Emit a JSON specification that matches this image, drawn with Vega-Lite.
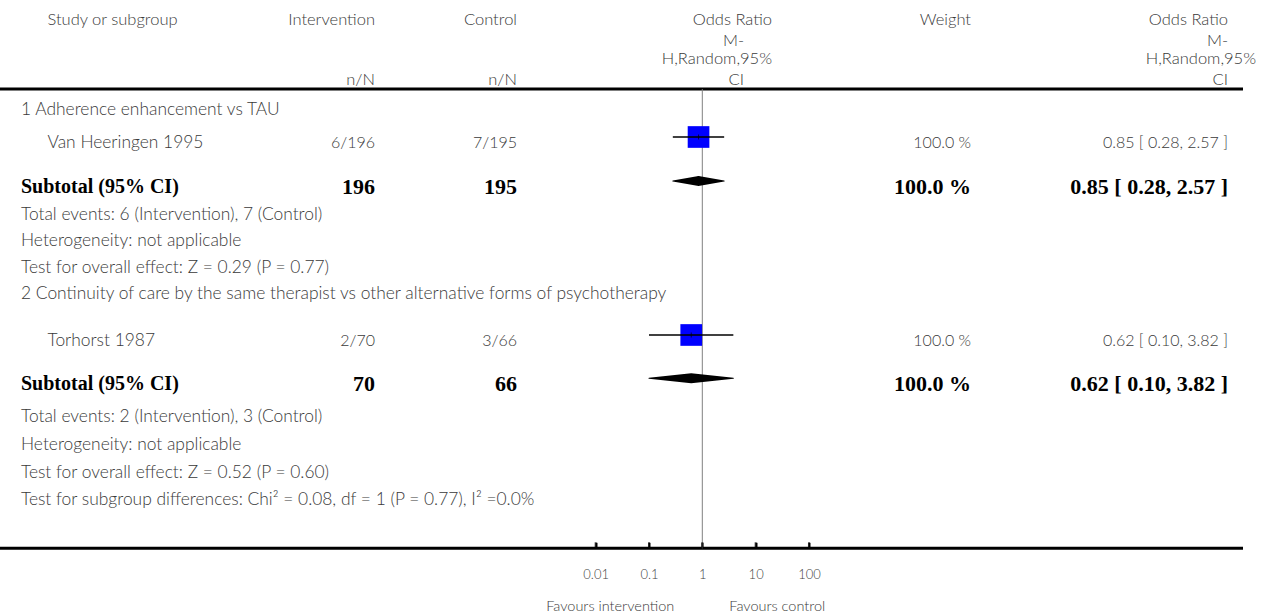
{
  "$schema": "https://vega.github.io/schema/vega-lite/v6.json",
  "padding": 0,
  "spacing": 0,
  "bounds": "flush",
  "background": "white",
  "config": {"view": {"stroke": null}},
  "datasets": {
    "rows": [
      {"r": 0.852, "kind": "group", "lvl": 0, "label": "1 Adherence enhancement vs TAU"},
      {"r": 2.074, "kind": "study", "lvl": 1, "label": "Van Heeringen 1995", "int": "6/196", "ctl": "7/195", "w": 100, "wt": "100.0 %", "ci": "0.85 [ 0.28, 2.57 ]", "or": 0.85, "lo": 0.28, "hi": 2.57},
      {"r": 3.704, "kind": "sub", "lvl": 0, "label": "Subtotal (95% CI)", "int": "196", "ctl": "195", "w": 100, "wt": "100.0 %", "ci": "0.85 [ 0.28, 2.57 ]", "or": 0.85, "lo": 0.28, "hi": 2.57},
      {"r": 4.741, "kind": "note", "lvl": 0, "label": "Total events: 6 (Intervention), 7 (Control)"},
      {"r": 5.704, "kind": "note", "lvl": 0, "label": "Heterogeneity: not applicable"},
      {"r": 6.704, "kind": "note", "lvl": 0, "label": "Test for overall effect: Z = 0.29 (P = 0.77)"},
      {"r": 7.667, "kind": "group", "lvl": 0, "label": "2 Continuity of care by the same therapist vs other alternative forms of psychotherapy"},
      {"r": 9.407, "kind": "study", "lvl": 1, "label": "Torhorst 1987", "int": "2/70", "ctl": "3/66", "w": 100, "wt": "100.0 %", "ci": "0.62 [ 0.10, 3.82 ]", "or": 0.62, "lo": 0.10, "hi": 3.82},
      {"r": 11.011, "kind": "sub", "lvl": 0, "label": "Subtotal (95% CI)", "int": "70", "ctl": "66", "w": 100, "wt": "100.0 %", "ci": "0.62 [ 0.10, 3.82 ]", "or": 0.62, "lo": 0.10, "hi": 3.82},
      {"r": 12.222, "kind": "note", "lvl": 0, "label": "Total events: 2 (Intervention), 3 (Control)"},
      {"r": 13.259, "kind": "note", "lvl": 0, "label": "Heterogeneity: not applicable"},
      {"r": 14.296, "kind": "note", "lvl": 0, "label": "Test for overall effect: Z = 0.52 (P = 0.60)"},
      {"r": 15.296, "kind": "note", "lvl": 0, "label": "Test for subgroup differences: Chi² = 0.08, df = 1 (P = 0.77), I² =0.0%"}
    ],
    "head": [
      {"r": -2.259, "lvl": 1, "study": "Study or subgroup", "int": "Intervention", "ctl": "Control", "orA": "Odds Ratio", "w": "Weight", "ciA": "Odds Ratio"},
      {"r": -1.481, "lvl": 1, "orB": "M-", "ciA": "M-"},
      {"r": -0.833, "lvl": 1, "orA": "H,Random,95%", "ciB": "H,Random,95%"},
      {"r": -0.037, "lvl": 1, "int": "n/N", "ctl": "n/N", "orB": "CI", "ciA": "CI"}
    ],
    "ref": [{"or": 1}],
    "ticks": [{"v": 0.01}, {"v": 0.1}, {"v": 1}, {"v": 10}, {"v": 100}],
    "fav": [{"t": "Favours intervention", "side": "L"}, {"t": "Favours control", "side": "R"}]
  },
  "hconcat": [
    {
      "width": 240, "height": 616,
      "layer": [
        {"data": {"name": "ref"}, "mark": {"type": "rect", "color": "black"},
         "encoding": {"x": {"value": 0}, "x2": {"value": "width"}, "y": {"datum": 0.2444, "type": "quantitative", "scale": {"domain": [-3, 19.8148], "reverse": true, "nice": false, "zero": false}, "axis": null}, "y2": {"datum": 0.3556}}},
        {"data": {"name": "ref"}, "mark": {"type": "rect", "color": "black"},
         "encoding": {"x": {"value": 0}, "x2": {"value": "width"}, "y": {"datum": 17.251, "type": "quantitative"}, "y2": {"datum": 17.363}}},
        {"data": {"name": "head"}, "transform": [{"filter": "isValid(datum.study)"}],
         "mark": {"type": "text", "font": "Lato", "fontSize": 16.5, "fontWeight": 300, "color": "#3a3a3a", "baseline": "middle", "align": "left"},
         "encoding": {"x": {"field": "lvl", "type": "quantitative", "scale": {"domain": [0, 1], "range": [21, 47.5]}, "axis": null}, "y": {"field": "r", "type": "quantitative"}, "text": {"field": "study"}}},
        {"data": {"name": "rows"}, "transform": [{"filter": "datum.kind != 'sub'"}],
         "mark": {"type": "text", "font": "Lato", "fontSize": 17.4, "fontWeight": 300, "color": "#3a3a3a", "baseline": "middle", "align": "left", "dy": 6},
         "encoding": {"x": {"field": "lvl", "type": "quantitative"}, "y": {"field": "r", "type": "quantitative"}, "text": {"field": "label"}}},
        {"data": {"name": "rows"}, "transform": [{"filter": "datum.kind == 'sub'"}],
         "mark": {"type": "text", "font": "Liberation Serif", "fontSize": 20, "fontWeight": "bold", "color": "black", "baseline": "middle", "align": "left", "dy": 6},
         "encoding": {"x": {"field": "lvl", "type": "quantitative"}, "y": {"field": "r", "type": "quantitative"}, "text": {"field": "label"}}}
      ]
    },
    {
      "width": 135, "height": 616,
      "layer": [
        {"data": {"name": "ref"}, "mark": {"type": "rect", "color": "black"},
         "encoding": {"x": {"value": 0}, "x2": {"value": "width"}, "y": {"datum": 0.2444, "type": "quantitative", "scale": {"domain": [-3, 19.8148], "reverse": true, "nice": false, "zero": false}, "axis": null}, "y2": {"datum": 0.3556}}},
        {"data": {"name": "ref"}, "mark": {"type": "rect", "color": "black"},
         "encoding": {"x": {"value": 0}, "x2": {"value": "width"}, "y": {"datum": 17.251, "type": "quantitative"}, "y2": {"datum": 17.363}}},
        {"data": {"name": "head"}, "transform": [{"filter": "isValid(datum.int)"}],
         "mark": {"type": "text", "font": "Lato", "fontSize": 16.5, "fontWeight": 300, "color": "#3a3a3a", "baseline": "middle", "align": "right"},
         "encoding": {"x": {"value": "width"}, "y": {"field": "r", "type": "quantitative"}, "text": {"field": "int"}}},
        {"data": {"name": "rows"}, "transform": [{"filter": "datum.kind == 'study'"}],
         "mark": {"type": "text", "font": "Lato", "fontSize": 16, "fontWeight": 300, "color": "#3a3a3a", "baseline": "middle", "align": "right", "dy": 6},
         "encoding": {"x": {"value": "width"}, "y": {"field": "r", "type": "quantitative"}, "text": {"field": "int"}}},
        {"data": {"name": "rows"}, "transform": [{"filter": "datum.kind == 'sub'"}],
         "mark": {"type": "text", "font": "Liberation Serif", "fontSize": 22, "fontWeight": "bold", "color": "black", "baseline": "middle", "align": "right", "dy": 6},
         "encoding": {"x": {"value": "width"}, "y": {"field": "r", "type": "quantitative"}, "text": {"field": "int"}}}
      ]
    },
    {
      "width": 142, "height": 616,
      "layer": [
        {"data": {"name": "ref"}, "mark": {"type": "rect", "color": "black"},
         "encoding": {"x": {"value": 0}, "x2": {"value": "width"}, "y": {"datum": 0.2444, "type": "quantitative", "scale": {"domain": [-3, 19.8148], "reverse": true, "nice": false, "zero": false}, "axis": null}, "y2": {"datum": 0.3556}}},
        {"data": {"name": "ref"}, "mark": {"type": "rect", "color": "black"},
         "encoding": {"x": {"value": 0}, "x2": {"value": "width"}, "y": {"datum": 17.251, "type": "quantitative"}, "y2": {"datum": 17.363}}},
        {"data": {"name": "head"}, "transform": [{"filter": "isValid(datum.ctl)"}],
         "mark": {"type": "text", "font": "Lato", "fontSize": 16.5, "fontWeight": 300, "color": "#3a3a3a", "baseline": "middle", "align": "right"},
         "encoding": {"x": {"value": "width"}, "y": {"field": "r", "type": "quantitative"}, "text": {"field": "ctl"}}},
        {"data": {"name": "rows"}, "transform": [{"filter": "datum.kind == 'study'"}],
         "mark": {"type": "text", "font": "Lato", "fontSize": 16, "fontWeight": 300, "color": "#3a3a3a", "baseline": "middle", "align": "right", "dy": 6},
         "encoding": {"x": {"value": "width"}, "y": {"field": "r", "type": "quantitative"}, "text": {"field": "ctl"}}},
        {"data": {"name": "rows"}, "transform": [{"filter": "datum.kind == 'sub'"}],
         "mark": {"type": "text", "font": "Liberation Serif", "fontSize": 22, "fontWeight": "bold", "color": "black", "baseline": "middle", "align": "right", "dy": 6},
         "encoding": {"x": {"value": "width"}, "y": {"field": "r", "type": "quantitative"}, "text": {"field": "ctl"}}}
      ]
    },
    {
      "width": 313, "height": 616,
      "layer": [
        {"data": {"name": "ref"}, "mark": {"type": "rect", "color": "black"},
         "encoding": {"x": {"value": 0}, "x2": {"value": "width"}, "y": {"datum": 0.2444, "type": "quantitative", "scale": {"domain": [-3, 19.8148], "reverse": true, "nice": false, "zero": false}, "axis": null}, "y2": {"datum": 0.3556}}},
        {"data": {"name": "ref"}, "mark": {"type": "rect", "color": "black"},
         "encoding": {"x": {"value": 0}, "x2": {"value": "width"}, "y": {"datum": 17.251, "type": "quantitative"}, "y2": {"datum": 17.363}}},
        {"data": {"name": "ref"}, "mark": {"type": "rule", "color": "#808080", "strokeWidth": 1},
         "encoding": {
           "x": {"field": "or", "type": "quantitative", "scale": {"type": "log", "domain": [0.0003352, 248.0], "nice": false},
                 "axis": {"orient": "bottom", "offset": -67.7, "values": [0.01, 0.1, 1, 10, 100], "format": "~g", "domain": false, "grid": false, "ticks": true, "tickSize": -6, "tickWidth": 2, "tickColor": "black", "labelFont": "Lato", "labelFontSize": 13, "labelFontWeight": 300, "labelColor": "#444", "labelPadding": 26, "labelFlush": false, "labelOverlap": false, "title": null}},
           "y": {"datum": 0.3, "type": "quantitative"}, "y2": {"datum": 17.307}}},
        {"data": {"name": "ticks"},
         "mark": {"type": "tick", "orient": "vertical", "size": 6, "thickness": 2, "color": "black"},
         "encoding": {"x": {"field": "v", "type": "quantitative",
                 "axis": {"orient": "bottom", "offset": -67.7, "values": [0.01, 0.1, 1, 10, 100], "format": "~g", "domain": false, "grid": false, "ticks": true, "tickSize": -6, "tickWidth": 2, "tickColor": "black", "labelFont": "Lato", "labelFontSize": 13, "labelFontWeight": 300, "labelColor": "#444", "labelPadding": 26, "labelFlush": false, "labelOverlap": false, "title": null}},
           "y": {"datum": 17.196, "type": "quantitative"}}},
        {"data": {"name": "rows"}, "transform": [{"filter": "datum.kind == 'study'"}],
         "mark": {"type": "point", "shape": "square", "filled": true, "color": "#0000ff", "opacity": 1, "strokeWidth": 0},
         "encoding": {"x": {"field": "or", "type": "quantitative",
                 "axis": {"orient": "bottom", "offset": -67.7, "values": [0.01, 0.1, 1, 10, 100], "format": "~g", "domain": false, "grid": false, "ticks": true, "tickSize": -6, "tickWidth": 2, "tickColor": "black", "labelFont": "Lato", "labelFontSize": 13, "labelFontWeight": 300, "labelColor": "#444", "labelPadding": 26, "labelFlush": false, "labelOverlap": false, "title": null}},
           "y": {"field": "r", "type": "quantitative"},
           "size": {"field": "w", "type": "quantitative", "scale": {"domain": [0, 100], "range": [0, 470]}, "legend": null}}},
        {"data": {"name": "rows"}, "transform": [{"filter": "datum.kind == 'study'"}],
         "mark": {"type": "rule", "color": "black", "strokeWidth": 1.5},
         "encoding": {"x": {"field": "lo", "type": "quantitative",
                 "axis": {"orient": "bottom", "offset": -67.7, "values": [0.01, 0.1, 1, 10, 100], "format": "~g", "domain": false, "grid": false, "ticks": true, "tickSize": -6, "tickWidth": 2, "tickColor": "black", "labelFont": "Lato", "labelFontSize": 13, "labelFontWeight": 300, "labelColor": "#444", "labelPadding": 26, "labelFlush": false, "labelOverlap": false, "title": null}},
           "x2": {"field": "hi"}, "y": {"field": "r", "type": "quantitative"}}},
        {"data": {"name": "rows"}, "transform": [{"filter": "datum.kind == 'study'"}],
         "mark": {"type": "tick", "orient": "vertical", "size": 5, "thickness": 1, "color": "black"},
         "encoding": {"x": {"field": "or", "type": "quantitative",
                 "axis": {"orient": "bottom", "offset": -67.7, "values": [0.01, 0.1, 1, 10, 100], "format": "~g", "domain": false, "grid": false, "ticks": true, "tickSize": -6, "tickWidth": 2, "tickColor": "black", "labelFont": "Lato", "labelFontSize": 13, "labelFontWeight": 300, "labelColor": "#444", "labelPadding": 26, "labelFlush": false, "labelOverlap": false, "title": null}},
           "y": {"field": "r", "type": "quantitative"}}},
        {"data": {"name": "rows"}, "transform": [{"filter": "datum.kind == 'sub'"}, {"fold": ["lo", "or", "hi"], "as": ["k", "v"]}],
         "mark": {"type": "trail", "color": "black"},
         "encoding": {"x": {"field": "v", "type": "quantitative",
                 "axis": {"orient": "bottom", "offset": -67.7, "values": [0.01, 0.1, 1, 10, 100], "format": "~g", "domain": false, "grid": false, "ticks": true, "tickSize": -6, "tickWidth": 2, "tickColor": "black", "labelFont": "Lato", "labelFontSize": 13, "labelFontWeight": 300, "labelColor": "#444", "labelPadding": 26, "labelFlush": false, "labelOverlap": false, "title": null}},
           "y": {"field": "r", "type": "quantitative"},
           "detail": {"field": "r", "type": "nominal"},
           "size": {"field": "k", "type": "ordinal", "scale": {"type": "ordinal", "domain": ["lo", "or", "hi"], "range": [0, 10, 0]}, "legend": null}}},
        {"data": {"name": "head"}, "transform": [{"filter": "isValid(datum.orA)"}],
         "mark": {"type": "text", "font": "Lato", "fontSize": 16.5, "fontWeight": 300, "color": "#3a3a3a", "baseline": "middle", "align": "right", "dx": -58},
         "encoding": {"x": {"value": "width"}, "y": {"field": "r", "type": "quantitative"}, "text": {"field": "orA"}}},
        {"data": {"name": "head"}, "transform": [{"filter": "isValid(datum.orB)"}],
         "mark": {"type": "text", "font": "Lato", "fontSize": 16.5, "fontWeight": 300, "color": "#3a3a3a", "baseline": "middle", "align": "right", "dx": -86},
         "encoding": {"x": {"value": "width"}, "y": {"field": "r", "type": "quantitative"}, "text": {"field": "orB"}}},
        {"data": {"name": "fav"}, "transform": [{"filter": "datum.side == 'L'"}],
         "mark": {"type": "text", "font": "Lato", "fontSize": 14.5, "fontWeight": 300, "color": "#3a3a3a", "baseline": "middle", "align": "right", "dx": -28, "dy": 1},
         "encoding": {"x": {"datum": 1, "type": "quantitative",
                 "axis": {"orient": "bottom", "offset": -67.7, "values": [0.01, 0.1, 1, 10, 100], "format": "~g", "domain": false, "grid": false, "ticks": true, "tickSize": -6, "tickWidth": 2, "tickColor": "black", "labelFont": "Lato", "labelFontSize": 13, "labelFontWeight": 300, "labelColor": "#444", "labelPadding": 26, "labelFlush": false, "labelOverlap": false, "title": null}},
           "y": {"datum": 19.44, "type": "quantitative"}, "text": {"field": "t"}}},
        {"data": {"name": "fav"}, "transform": [{"filter": "datum.side == 'R'"}],
         "mark": {"type": "text", "font": "Lato", "fontSize": 14.5, "fontWeight": 300, "color": "#3a3a3a", "baseline": "middle", "align": "left", "dx": 27, "dy": 1},
         "encoding": {"x": {"datum": 1, "type": "quantitative",
                 "axis": {"orient": "bottom", "offset": -67.7, "values": [0.01, 0.1, 1, 10, 100], "format": "~g", "domain": false, "grid": false, "ticks": true, "tickSize": -6, "tickWidth": 2, "tickColor": "black", "labelFont": "Lato", "labelFontSize": 13, "labelFontWeight": 300, "labelColor": "#444", "labelPadding": 26, "labelFlush": false, "labelOverlap": false, "title": null}},
           "y": {"datum": 19.44, "type": "quantitative"}, "text": {"field": "t"}}}
      ]
    },
    {
      "width": 141, "height": 616,
      "layer": [
        {"data": {"name": "ref"}, "mark": {"type": "rect", "color": "black"},
         "encoding": {"x": {"value": 0}, "x2": {"value": "width"}, "y": {"datum": 0.2444, "type": "quantitative", "scale": {"domain": [-3, 19.8148], "reverse": true, "nice": false, "zero": false}, "axis": null}, "y2": {"datum": 0.3556}}},
        {"data": {"name": "ref"}, "mark": {"type": "rect", "color": "black"},
         "encoding": {"x": {"value": 0}, "x2": {"value": "width"}, "y": {"datum": 17.251, "type": "quantitative"}, "y2": {"datum": 17.363}}},
        {"data": {"name": "head"}, "transform": [{"filter": "isValid(datum.w)"}],
         "mark": {"type": "text", "font": "Lato", "fontSize": 16.5, "fontWeight": 300, "color": "#3a3a3a", "baseline": "middle", "align": "right"},
         "encoding": {"x": {"value": "width"}, "y": {"field": "r", "type": "quantitative"}, "text": {"field": "w"}}},
        {"data": {"name": "rows"}, "transform": [{"filter": "datum.kind == 'study'"}],
         "mark": {"type": "text", "font": "Lato", "fontSize": 16, "fontWeight": 300, "color": "#3a3a3a", "baseline": "middle", "align": "right", "dy": 6},
         "encoding": {"x": {"value": "width"}, "y": {"field": "r", "type": "quantitative"}, "text": {"field": "wt"}}},
        {"data": {"name": "rows"}, "transform": [{"filter": "datum.kind == 'sub'"}],
         "mark": {"type": "text", "font": "Liberation Serif", "fontSize": 22, "fontWeight": "bold", "color": "black", "baseline": "middle", "align": "right", "dy": 6},
         "encoding": {"x": {"value": "width"}, "y": {"field": "r", "type": "quantitative"}, "text": {"field": "wt"}}}
      ]
    },
    {
      "width": 257, "height": 616,
      "layer": [
        {"data": {"name": "ref"}, "mark": {"type": "rect", "color": "black", "x2Offset": 15},
         "encoding": {"x": {"value": 0}, "x2": {"value": "width"}, "y": {"datum": 0.2444, "type": "quantitative", "scale": {"domain": [-3, 19.8148], "reverse": true, "nice": false, "zero": false}, "axis": null}, "y2": {"datum": 0.3556}}},
        {"data": {"name": "ref"}, "mark": {"type": "rect", "color": "black", "x2Offset": 15},
         "encoding": {"x": {"value": 0}, "x2": {"value": "width"}, "y": {"datum": 17.251, "type": "quantitative"}, "y2": {"datum": 17.363}}},
        {"data": {"name": "head"}, "transform": [{"filter": "isValid(datum.ciA)"}],
         "mark": {"type": "text", "font": "Lato", "fontSize": 16.5, "fontWeight": 300, "color": "#3a3a3a", "baseline": "middle", "align": "right"},
         "encoding": {"x": {"value": "width"}, "y": {"field": "r", "type": "quantitative"}, "text": {"field": "ciA"}}},
        {"data": {"name": "head"}, "transform": [{"filter": "isValid(datum.ciB)"}],
         "mark": {"type": "text", "font": "Lato", "fontSize": 16.5, "fontWeight": 300, "color": "#3a3a3a", "baseline": "middle", "align": "right", "dx": 28},
         "encoding": {"x": {"value": "width"}, "y": {"field": "r", "type": "quantitative"}, "text": {"field": "ciB"}}},
        {"data": {"name": "rows"}, "transform": [{"filter": "datum.kind == 'study'"}],
         "mark": {"type": "text", "font": "Lato", "fontSize": 16, "fontWeight": 300, "color": "#3a3a3a", "baseline": "middle", "align": "right", "dy": 6},
         "encoding": {"x": {"value": "width"}, "y": {"field": "r", "type": "quantitative"}, "text": {"field": "ci"}}},
        {"data": {"name": "rows"}, "transform": [{"filter": "datum.kind == 'sub'"}],
         "mark": {"type": "text", "font": "Liberation Serif", "fontSize": 22, "fontWeight": "bold", "color": "black", "baseline": "middle", "align": "right", "dy": 6},
         "encoding": {"x": {"value": "width"}, "y": {"field": "r", "type": "quantitative"}, "text": {"field": "ci"}}}
      ]
    }
  ]
}
